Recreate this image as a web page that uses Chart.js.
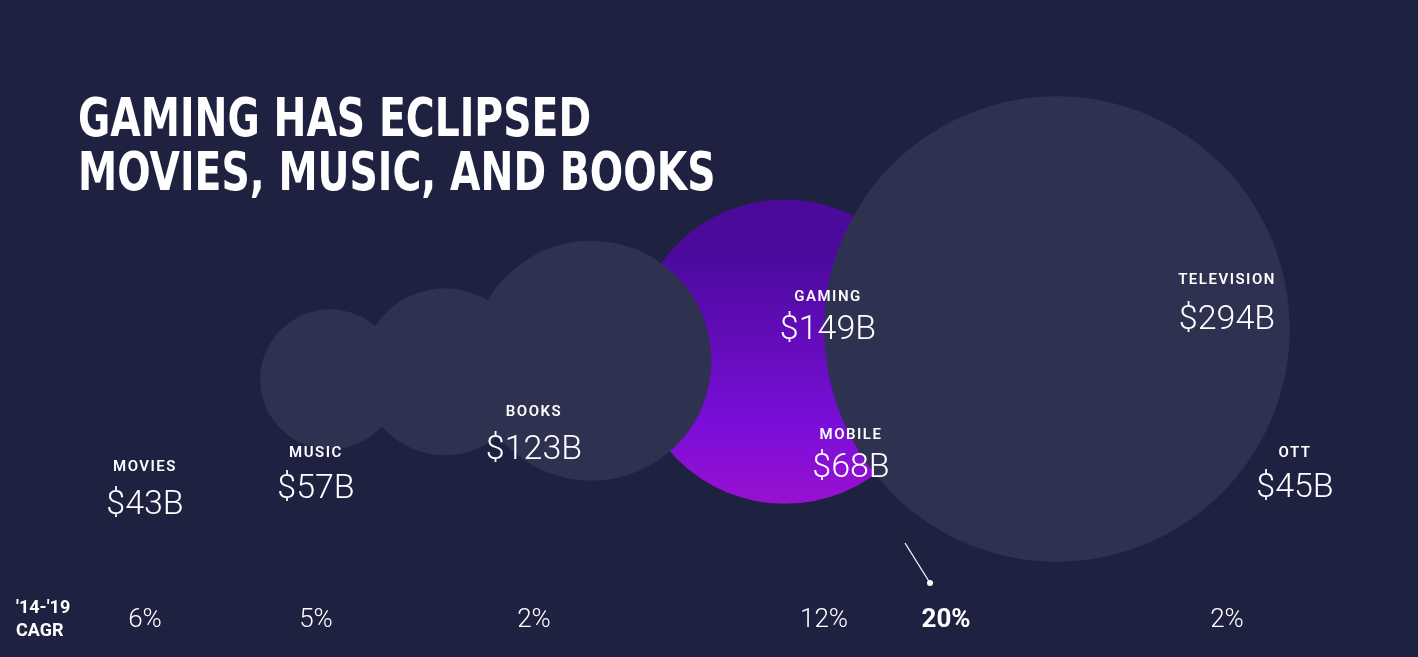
<!DOCTYPE html>
<html><head><meta charset="utf-8">
<script src="https://cdn.jsdelivr.net/npm/chart.js@4/dist/chart.umd.min.js"></script>
<style>html,body{margin:0;padding:0;background:#1e2140;overflow:hidden}canvas{display:block}</style>
</head><body><canvas id="c" width="1418" height="657" style="width:1418px;height:657px"></canvas>
<script>
// data
const categories = ['MOVIES','MUSIC','BOOKS','GAMING','MOBILE','TELEVISION','OTT'];
const revenue = [43,57,123,149,68,294,45];           // $B
const cagrLabels = ['6%','5%','2%','12%','20%','2%'];
// layout (pixel positions on the 1418x657 page)
const cx = [145,316,534,822,851,1227,1295];
const cy = [503,477,439,408,463,330,474];
const nameY = [467,453,412,297,435,280,453];
const valY = [505,489,450,330,468,320,488];
const labelX = [145,316,534,828,851,1227,1295];
const cagrX = [145,316,534,824,946,1227];

function radius(v){ return v===123 ? 120 : 70*Math.pow(v/43,0.625); }
const fills = ['#2e3150','#2e3150','#2e3150','grad','rgba(50,0,90,0.45)','#2e3150','#474b68'];

const data = categories.map((c,i)=>({x:cx[i],y:cy[i],r:radius(revenue[i])}));
const order = [5,0,1,2,3,4,6];

const labels = {
  id:'labels',
  afterDatasetsDraw(chart){
    const ctx=chart.ctx; ctx.save();
    ctx.fillStyle='#fff'; ctx.textAlign='center'; ctx.textBaseline='middle';
    categories.forEach((c,i)=>{
      ctx.font='600 15px Roboto'; ctx.letterSpacing='1.5px';
      ctx.fillText(c,labelX[i],nameY[i]);
      ctx.letterSpacing='0px';
      ctx.font='300 34px Roboto';
      ctx.fillText('$'+revenue[i]+'B',labelX[i],valY[i]);
    });
    ctx.strokeStyle='#fff'; ctx.lineWidth=1.2;
    ctx.beginPath(); ctx.moveTo(905,543); ctx.lineTo(930,583); ctx.stroke();
    ctx.beginPath(); ctx.arc(930,583,3,0,Math.PI*2); ctx.fill();
    cagrLabels.forEach((t,i)=>{
      ctx.font=(i===4?'bold 26px Roboto':'300 26px Roboto');
      ctx.fillText(t,cagrX[i],620);
    });
    ctx.textAlign='left'; ctx.font='bold 18px Roboto';
    ctx.fillText("'14-'19",16,608); ctx.fillText('CAGR',16,631);
    ctx.font='bold 54px "DejaVu Sans Condensed"'; ctx.textBaseline='alphabetic';
    ctx.save(); ctx.translate(78,0); ctx.scale(0.81,1);
    ctx.fillText('GAMING HAS ECLIPSED',0,136);
    ctx.fillText('MOVIES, MUSIC, AND BOOKS',0,190);
    ctx.restore();
    ctx.restore();
  }
};

new Chart(document.getElementById('c'),{
  type:'bubble',
  data:{datasets:order.map(i=>({
    label:categories[i],
    data:[data[i]],
    clip:false,
    backgroundColor:(ctx)=>{
      if(fills[i]!=='grad') return fills[i];
      const g=ctx.chart.ctx.createLinearGradient(0,cy[i]-155,0,cy[i]+155);
      g.addColorStop(0,'#4b0a9c'); g.addColorStop(0.55,'#7a0ed8'); g.addColorStop(1,'#b012cc');
      return g;
    },
    borderColor:(i===4||i===6)?'#ffffff':'rgba(0,0,0,0)',
    borderWidth:(i===4||i===6)?1.3:0,
    hoverRadius:0
  }))},
  plugins:[labels],
  options:{
    responsive:false,animation:false,devicePixelRatio:1,
    layout:{padding:0},
    plugins:{legend:{display:false},tooltip:{enabled:false}},
    scales:{
      x:{type:'linear',min:0,max:1418,display:false},
      y:{type:'linear',min:0,max:657,reverse:true,display:false}
    }
  }
});
</script></body></html>
